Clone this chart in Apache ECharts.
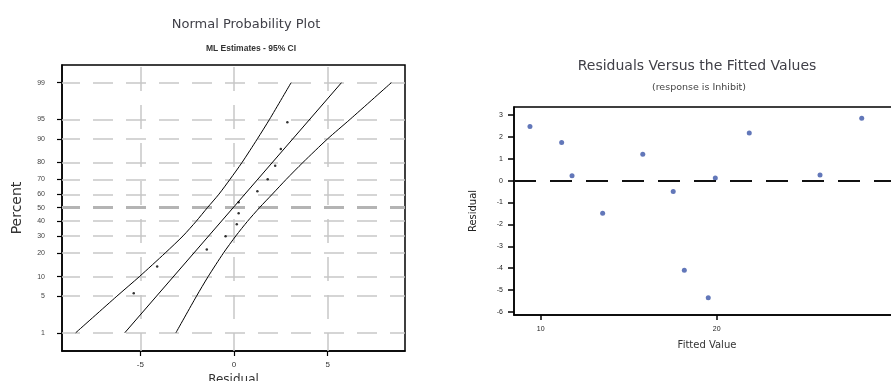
<!DOCTYPE html>
<html><head><meta charset="utf-8">
<script src="https://cdn.jsdelivr.net/npm/echarts@6/dist/echarts.min.js"></script>
<style>html,body{margin:0;padding:0;background:#fff;}#c{width:891px;height:381px;}</style>
</head><body><div id="c"></div>
<script>
// ---- data ----
const percentTicks = [1, 5, 10, 20, 30, 40, 50, 60, 70, 80, 90, 95, 99];
const residualTicks = [-5, 0, 5];
const bandPercents = [1, 5, 10, 20, 30, 40, 50, 60, 70, 80, 90, 95, 99];
const lowerBand = [-8.45, -6.25, -5.05, -3.67, -2.72, -2.02, -1.42, -0.8, -0.22, 0.43, 1.25, 1.9, 3.05];
const upperBand = [-3.1, -2.0, -1.38, -0.56, 0.1, 0.72, 1.36, 2.05, 2.78, 3.68, 5.0, 6.2, 8.4];
const fitPercents = [1, 99];
const fitLine = [-5.83, 5.74];
const sortedResiduals = [-5.35, -4.1, -1.45, -0.45, 0.15, 0.25, 0.25, 1.25, 1.8, 2.2, 2.5, 2.85];
const plotPercents = [5.6, 13.7, 21.8, 29.8, 37.9, 46.0, 54.0, 62.1, 70.2, 78.2, 86.3, 94.4];
const fittedValues = [9.39, 11.19, 11.78, 13.52, 15.8, 17.53, 18.16, 19.52, 19.92, 21.85, 25.87, 28.24];
const residuals = [2.47, 1.74, 0.23, -1.49, 1.21, -0.5, -4.09, -5.35, 0.12, 2.18, 0.26, 2.85];
const fittedTicks = [10, 20];
const residualTicksRight = [-6, -5, -4, -3, -2, -1, 0, 1, 2, 3];

// ---- normal probability scale (inverse normal CDF) ----
function probit(p) {
  const a = [-3.969683028665376e+01, 2.209460984245205e+02, -2.759285104469687e+02, 1.383577518672690e+02, -3.066479806614716e+01, 2.506628277459239e+00];
  const b = [-5.447609879822406e+01, 1.615858368580409e+02, -1.556989798598866e+02, 6.680131188771972e+01, -1.328068155288572e+01];
  const c = [-7.784894002430293e-03, -3.223964580411365e-01, -2.400758277161838e+00, -2.549732539343734e+00, 4.374664141464968e+00, 2.938163982698783e+00];
  const d = [7.784695709041462e-03, 3.224671290700398e-01, 2.445134137142996e+00, 3.754408661907416e+00];
  const pl = 0.02425, ph = 1 - pl;
  let q, r;
  if (p < pl) { q = Math.sqrt(-2 * Math.log(p)); return (((((c[0]*q+c[1])*q+c[2])*q+c[3])*q+c[4])*q+c[5]) / ((((d[0]*q+d[1])*q+d[2])*q+d[3])*q+1); }
  if (p <= ph) { q = p - 0.5; r = q*q; return (((((a[0]*r+a[1])*r+a[2])*r+a[3])*r+a[4])*r+a[5])*q / (((((b[0]*r+b[1])*r+b[2])*r+b[3])*r+b[4])*r+1); }
  q = Math.sqrt(-2 * Math.log(1 - p));
  return -(((((c[0]*q+c[1])*q+c[2])*q+c[3])*q+c[4])*q+c[5]) / ((((d[0]*q+d[1])*q+d[2])*q+d[3])*q+1);
}
const zOf = pct => probit(pct / 100);
const pctLabel = v => {
  let best = percentTicks[0], bd = 1e9;
  percentTicks.forEach(p => { const dd = Math.abs(zOf(p) - v); if (dd < bd) { bd = dd; best = p; } });
  return String(best);
};

const FONT = 'Liberation Sans';
const WIDE = 'DejaVu Sans';
const chart = echarts.init(document.getElementById('c'), null, { renderer: 'canvas' });

const hGrid = percentTicks.map(p => ({
  yAxis: zOf(p),
  lineStyle: p === 50
    ? { color: '#b4b4b4', width: 3, type: [20, 13], dashOffset: 2 }
    : { color: '#c8c8c8', width: 1.5, type: [20, 13], dashOffset: 2 }
}));
const vGrid = residualTicks.map(x => ({
  xAxis: x,
  lineStyle: { color: '#c8c8c8', width: 1.5, type: [24, 14], dashOffset: 6 }
}));

chart.setOption({
  animation: false,
  textStyle: { fontFamily: FONT },
  title: [
    { text: 'Normal Probability Plot', left: 241, top: 13, textAlign: 'center',
      textStyle: { fontSize: 13, fontWeight: 'normal', color: '#404048', fontFamily: WIDE } },
    { text: 'ML Estimates - 95% CI', left: 246, top: 39, textAlign: 'center',
      textStyle: { fontSize: 8.5, fontWeight: 'bold', color: '#333', fontFamily: FONT } },
    { text: 'Residuals Versus the Fitted Values', left: 692, top: 54, textAlign: 'center',
      textStyle: { fontSize: 14, fontWeight: 'normal', color: '#404048', fontFamily: WIDE } },
    { text: '(response is Inhibit)', left: 694, top: 78, textAlign: 'center',
      textStyle: { fontSize: 9.5, fontWeight: 'normal', color: '#444', fontFamily: WIDE } }
  ],
  grid: [
    { left: 62, top: 65, width: 343, height: 286, show: true, borderColor: '#000', borderWidth: 1.5,
      containLabel: false, outerBoundsMode: 'none' },
    { left: 514, top: 107, width: 386, height: 208, show: true, borderColor: '#000', borderWidth: 1.5,
      containLabel: false, outerBoundsMode: 'none' }
  ],
  xAxis: [
    { type: 'value', gridIndex: 0, min: -9.18, max: 9.13,
      axisLine: { show: true, onZero: false, lineStyle: { color: '#000', width: 1.5 } },
      axisTick: { show: true, customValues: residualTicks, length: 5, inside: false, lineStyle: { color: '#000', width: 1.2 } },
      axisLabel: { show: true, customValues: residualTicks, fontSize: 8, color: '#333', margin: 10 },
      splitLine: { show: false },
      name: 'Residual', nameLocation: 'middle', nameGap: 16,
      nameTextStyle: { fontSize: 12, color: '#333', fontFamily: WIDE } },
    { type: 'value', gridIndex: 1, min: 8.483, max: 8.483 + 386 / 17.6,
      axisLine: { show: true, onZero: false, lineStyle: { color: '#000', width: 1.5 } },
      axisTick: { show: true, customValues: fittedTicks, length: 5, lineStyle: { color: '#000', width: 1.5 } },
      axisLabel: { show: true, customValues: fittedTicks, fontSize: 7, color: '#222', margin: 11 },
      splitLine: { show: false },
      name: 'Fitted Value', nameLocation: 'middle', nameGap: 25,
      nameTextStyle: { fontSize: 10, color: '#333', fontFamily: WIDE } }
  ],
  yAxis: [
    { type: 'value', gridIndex: 0, min: -2.665, max: 2.655,
      axisLine: { show: true, onZero: false, lineStyle: { color: '#000', width: 1.5 } },
      axisTick: { show: true, customValues: percentTicks.map(zOf), length: 5, lineStyle: { color: '#000', width: 1.2 } },
      axisLabel: { show: true, customValues: percentTicks.map(zOf), formatter: pctLabel, fontSize: 7, color: '#444', margin: 17 },
      splitLine: { show: false },
      name: 'Percent', nameLocation: 'middle', nameGap: 38, nameRotate: 90,
      nameTextStyle: { fontSize: 14, color: '#333', fontFamily: WIDE } },
    { type: 'value', gridIndex: 1, min: -6.137, max: 3.365,
      axisLine: { show: true, onZero: false, lineStyle: { color: '#000', width: 1.5 } },
      axisTick: { show: true, customValues: residualTicksRight, length: 6, lineStyle: { color: '#000', width: 1.5 } },
      axisLabel: { show: true, customValues: residualTicksRight, fontSize: 7, color: '#222', margin: 11 },
      splitLine: { show: false },
      name: 'Residual', nameLocation: 'middle', nameGap: 36, nameRotate: 90,
      nameTextStyle: { fontSize: 10, color: '#222', fontFamily: WIDE } }
  ],
  series: [
    { type: 'line', xAxisIndex: 0, yAxisIndex: 0, name: 'fit',
      data: fitPercents.map((p, i) => [fitLine[i], zOf(p)]),
      symbol: 'none', lineStyle: { color: '#000', width: 1 }, z: 3,
      markLine: { silent: true, symbol: 'none', label: { show: false }, z: 1, data: hGrid.concat(vGrid) } },
    { type: 'line', xAxisIndex: 0, yAxisIndex: 0, name: 'lower',
      data: bandPercents.map((p, i) => [lowerBand[i], zOf(p)]),
      symbol: 'none', smooth: 0.25, lineStyle: { color: '#000', width: 1 }, z: 3 },
    { type: 'line', xAxisIndex: 0, yAxisIndex: 0, name: 'upper',
      data: bandPercents.map((p, i) => [upperBand[i], zOf(p)]),
      symbol: 'none', smooth: 0.25, lineStyle: { color: '#000', width: 1 }, z: 3 },
    { type: 'scatter', xAxisIndex: 0, yAxisIndex: 0, name: 'points',
      data: sortedResiduals.map((x, i) => [x, zOf(plotPercents[i])]),
      symbol: 'circle', symbolSize: 2.5, itemStyle: { color: '#000' }, z: 4 },
    { type: 'scatter', xAxisIndex: 1, yAxisIndex: 1, name: 'resid',
      data: fittedValues.map((x, i) => [x, residuals[i]]),
      symbol: 'circle', symbolSize: 5, itemStyle: { color: '#3b55a8' }, z: 4,
      markLine: { silent: true, symbol: 'none', label: { show: false },
        data: [{ yAxis: 0 }], lineStyle: { color: '#111', width: 1.8, type: [22, 14] } } }
  ]
});
</script></body></html>
